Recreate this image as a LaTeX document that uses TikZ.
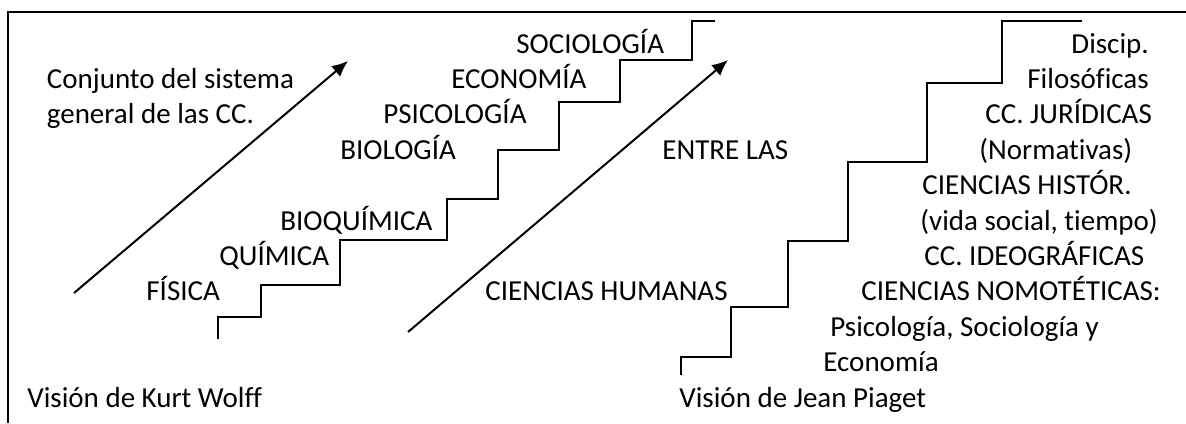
\documentclass[tikz,border=0pt]{standalone}
\usepackage{fontspec}
\setmainfont{Carlito}[Ligatures=NoCommon]
\usetikzlibrary{arrows.meta}

\begin{document}
\begin{tikzpicture}[x=0.5pt,y=-0.5pt,
    txt/.style={anchor=base west,inner sep=0pt,font=\fontsize{14.5}{17}\selectfont},
    stair/.style={line width=1pt,line join=miter},
    rise/.style={line width=1pt,-{Latex[length=8pt,width=7pt]}}]
    \useasboundingbox (0,0) rectangle (1186,423);

    % frame
    \draw[line width=1pt] (8,423) -- (8,12) -- (1186,12);

    % arrows
    \coordinate (kw tail) at (74,293);
    \coordinate (kw head) at (348,61);
    \coordinate (jp tail) at (408,332);
    \coordinate (jp head) at (728,60);
    \draw[rise] (kw tail) -- (kw head);
    \draw[rise] (jp tail) -- (jp head);

    % stairs of Kurt Wolff
    \draw[stair] (218,339) |- (261,317) |- (340,285) |- (447,240) |- (498,199)
        |- (559,150) |- (620,102) |- (692,60) |- (715,21);

    % stairs of Jean Piaget
    \draw[stair] (681,375) |- (731,357) |- (788,307) |- (848,241) |- (927,162)
        |- (1002,83) |- (1082,21);

    % left text
    \node[txt] (conj1) at (46.5,88.4) {Conjunto del sistema};
    \node[txt] (conj2) at (46.5,123.8) {general de las CC.};
    \node[txt] (fis) at (146,300.8) {FÍSICA};
    \node[txt] (qui) at (219,265.4) {QUÍMICA};
    \node[txt] (bioq) at (280,230) {BIOQUÍMICA};
    \node[txt] (bio) at (340,159.2) {BIOLOGÍA};
    \node[txt] (psi) at (383,123.8) {PSICOLOGÍA};
    \node[txt] (eco) at (451,88.4) {ECONOMÍA};
    \node[txt] (soc) at (516,53) {SOCIOLOGÍA};
    \node[txt] (wolff) at (27,407) {Visión de Kurt Wolff};

    % middle text
    \node[txt] (entre) at (662,159.2) {ENTRE LAS};
    \node[txt] (hum) at (485,300.8) {CIENCIAS HUMANAS};
    \node[txt] (piaget) at (679,407) {Visión de Jean Piaget};

    % right text
    \node[txt] (disc) at (1071,53) {Discip.};
    \node[txt] (filo) at (1027,88.4) {Filosóficas};
    \node[txt] (jur) at (985,123.8) {CC. JURÍDICAS};
    \node[txt] (norm) at (979,159.2) {(Normativas)};
    \node[txt] (hist) at (922,194.6) {CIENCIAS HISTÓR.};
    \node[txt] (vida) at (920,230) {(vida social, tiempo)};
    \node[txt] (ideo) at (924,265.4) {CC. IDEOGRÁFICAS};
    \node[txt] (nomo) at (861,300.8) {CIENCIAS NOMOTÉTICAS:};
    \node[txt] (psis) at (830,336.2) {Psicología, Sociología y};
    \node[txt] (econ) at (823,371.6) {Economía};
\end{tikzpicture}
\end{document}
